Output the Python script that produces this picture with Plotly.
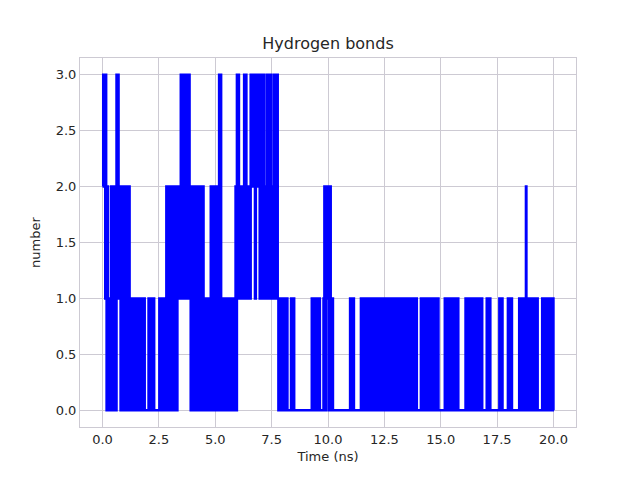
import plotly.graph_objects as go

# hydrogen bond count (time in ns, value held until next time)
time_ns = [
    0.00, 0.03, 0.06, 0.09, 0.12, 0.14, 0.16, 0.18, 0.21, 0.24,
    0.27, 0.31, 0.35, 0.38, 0.41, 0.44, 0.47, 0.50, 0.53, 0.56,
    0.59, 0.62, 0.65, 0.68, 0.71, 0.74, 0.77, 0.80, 0.82, 0.85,
    0.88, 0.91, 0.94, 0.97, 1.00, 1.03, 1.06, 1.09, 1.12, 1.15,
    1.18, 1.20, 1.23, 1.27, 1.31, 1.35, 1.39, 1.43, 1.47, 1.51,
    1.55, 1.59, 1.63, 1.67, 1.71, 1.77, 1.80, 1.84, 1.87, 2.04,
    2.08, 2.12, 2.16, 2.20, 2.24, 2.27, 2.29, 2.52, 2.56, 2.60,
    2.64, 2.68, 2.72, 2.76, 2.80, 2.83, 2.87, 2.91, 2.95, 2.99,
    3.03, 3.06, 3.10, 3.13, 3.17, 3.21, 3.25, 3.29, 3.32, 3.36,
    3.40, 3.44, 3.47, 3.50, 3.53, 3.56, 3.59, 3.62, 3.65, 3.68,
    3.71, 3.74, 3.76, 3.80, 3.83, 3.86, 3.89, 3.91, 3.95, 3.98,
    4.02, 4.05, 4.09, 4.13, 4.17, 4.21, 4.25, 4.29, 4.33, 4.37,
    4.41, 4.45, 4.48, 4.52, 4.56, 4.60, 4.64, 4.68, 4.72, 4.76,
    4.80, 4.83, 4.87, 4.91, 4.95, 4.99, 5.03, 5.07, 5.11, 5.15,
    5.17, 5.20, 5.23, 5.26, 5.30, 5.34, 5.38, 5.42, 5.46, 5.50,
    5.54, 5.58, 5.62, 5.66, 5.70, 5.74, 5.78, 5.82, 5.86, 5.90,
    5.93, 5.96, 5.99, 6.02, 6.05, 6.09, 6.13, 6.17, 6.21, 6.25,
    6.28, 6.31, 6.35, 6.38, 6.42, 6.46, 6.50, 6.54, 6.57, 6.61,
    6.65, 6.69, 6.73, 6.76, 6.80, 6.82, 6.86, 6.90, 6.94, 6.97,
    7.01, 7.04, 7.08, 7.11, 7.15, 7.18, 7.22, 7.26, 7.30, 7.33,
    7.37, 7.41, 7.45, 7.48, 7.52, 7.56, 7.60, 7.63, 7.67, 7.70,
    7.74, 7.77, 7.80, 7.84, 7.88, 7.92, 7.96, 8.00, 8.04, 8.08,
    8.12, 8.16, 8.20, 8.36, 8.40, 8.45, 8.50, 9.28, 9.32, 9.36,
    9.40, 9.44, 9.48, 9.52, 9.56, 9.60, 9.64, 9.80, 9.84, 9.88,
    9.92, 9.96, 10.00, 10.04, 10.08, 10.12, 10.16, 10.20, 10.22, 10.98,
    11.02, 11.06, 11.10, 11.13, 11.15, 11.46, 11.54, 11.62, 11.70, 11.78,
    11.86, 11.94, 12.02, 12.10, 12.18, 12.26, 12.34, 12.42, 12.50, 12.58,
    12.66, 12.74, 12.82, 12.90, 12.98, 13.06, 13.14, 13.22, 13.30, 13.38,
    13.46, 13.54, 13.62, 13.70, 13.78, 13.86, 13.94, 14.01, 14.12, 14.20,
    14.28, 14.36, 14.44, 14.52, 14.57, 14.59, 14.68, 14.76, 14.84, 14.90,
    15.18, 15.26, 15.34, 15.45, 15.56, 15.64, 15.72, 15.78, 16.10, 16.18,
    16.26, 16.34, 16.42, 16.50, 16.58, 16.66, 16.74, 16.84, 17.04, 17.11,
    17.18, 17.20, 17.60, 17.66, 17.72, 17.74, 17.98, 18.06, 18.13, 18.16,
    18.48, 18.56, 18.64, 18.72, 18.78, 18.80, 18.86, 18.93, 18.96, 19.07,
    19.15, 19.22, 19.30, 19.50, 19.58, 19.66, 19.74, 19.82, 19.90, 19.97,
    20.00,
]
hbonds = [
    2, 3, 2, 3, 1, 3, 2, 0, 2, 1,
    0, 1, 0, 2, 0, 1, 2, 0, 2, 1,
    0, 3, 2, 3, 1, 2, 1, 0, 2, 1,
    0, 2, 0, 2, 0, 1, 2, 0, 2, 0,
    2, 1, 0, 1, 0, 1, 0, 1, 0, 1,
    0, 1, 0, 1, 0, 1, 0, 1, 0, 1,
    0, 1, 0, 1, 0, 1, 0, 1, 0, 1,
    0, 1, 0, 1, 0, 2, 0, 2, 0, 2,
    0, 1, 2, 0, 2, 0, 2, 0, 1, 2,
    1, 2, 3, 1, 3, 2, 3, 1, 3, 2,
    3, 1, 3, 2, 3, 1, 2, 0, 2, 1,
    0, 2, 0, 2, 0, 2, 0, 2, 0, 2,
    0, 2, 0, 1, 0, 1, 0, 1, 0, 1,
    2, 0, 2, 0, 2, 0, 2, 0, 2, 0,
    3, 0, 3, 0, 1, 0, 1, 0, 1, 0,
    1, 0, 1, 0, 1, 0, 1, 0, 1, 2,
    0, 3, 1, 3, 2, 1, 2, 1, 2, 1,
    3, 2, 3, 1, 2, 1, 2, 1, 3, 2,
    3, 2, 3, 1, 3, 2, 3, 2, 3, 1,
    3, 1, 3, 1, 3, 1, 2, 1, 3, 1,
    3, 1, 3, 1, 2, 1, 3, 1, 3, 1,
    3, 1, 0, 1, 0, 1, 0, 1, 0, 1,
    0, 1, 0, 1, 0, 1, 0, 1, 0, 1,
    0, 1, 0, 1, 0, 1, 0, 1, 2, 0,
    2, 1, 2, 0, 2, 1, 0, 1, 0, 1,
    0, 1, 0, 1, 0, 1, 0, 1, 0, 1,
    0, 1, 0, 1, 0, 1, 0, 1, 0, 1,
    0, 1, 0, 1, 0, 1, 0, 1, 0, 1,
    0, 1, 0, 1, 0, 1, 0, 0, 1, 0,
    1, 0, 1, 0, 1, 0, 1, 0, 1, 0,
    1, 0, 1, 0, 1, 0, 1, 0, 1, 0,
    1, 0, 1, 0, 1, 0, 1, 0, 1, 0,
    1, 0, 1, 0, 1, 0, 1, 0, 1, 0,
    1, 0, 1, 0, 2, 1, 0, 1, 0, 1,
    0, 1, 0, 1, 0, 1, 0, 1, 0, 1,
    0,
]

x_ticks = [0, 2.5, 5, 7.5, 10, 12.5, 15, 17.5, 20]
y_ticks = [0, 0.5, 1, 1.5, 2, 2.5, 3]

grid = "#cdcad3"
ink = "#262626"
font = "DejaVu Sans"

fig = go.Figure()
fig.add_trace(go.Scatter(x=time_ns, y=hbonds, mode="lines",
                         line=dict(color="blue", width=2.5, shape="hv"),
                         showlegend=False))

# the page puts the plot 8px in from the top-left corner, so size/margins account for it
fig.update_layout(
    width=632, height=472,
    margin=dict(l=72, r=64, t=50, b=53),
    paper_bgcolor="white", plot_bgcolor="white",
    font=dict(family=font, size=13, color=ink),
    title=dict(text="Hydrogen bonds", x=0.5, xanchor="center",
               xref="paper",
               y=1 - 35 / 472, yanchor="middle", yref="container",
               font=dict(size=16, color=ink)),
)
fig.update_xaxes(range=[-1, 21], tickvals=x_ticks, tickformat=".1f",
                 showgrid=True, gridcolor=grid, gridwidth=1,
                 showline=True, linecolor=grid, mirror=True,
                 zeroline=False, ticks="", ticklen=0,
                 title=dict(text="Time (ns)", standoff=6,
                            font=dict(size=13, color=ink)))
fig.update_yaxes(range=[-0.15, 3.15], tickvals=y_ticks, tickformat=".1f",
                 showgrid=True, gridcolor=grid, gridwidth=1,
                 showline=True, linecolor=grid, mirror=True,
                 zeroline=False, ticks="", ticklen=0,
                 title=dict(text="number", standoff=12,
                            font=dict(size=13, color=ink)))

fig.write_html("out.html")
